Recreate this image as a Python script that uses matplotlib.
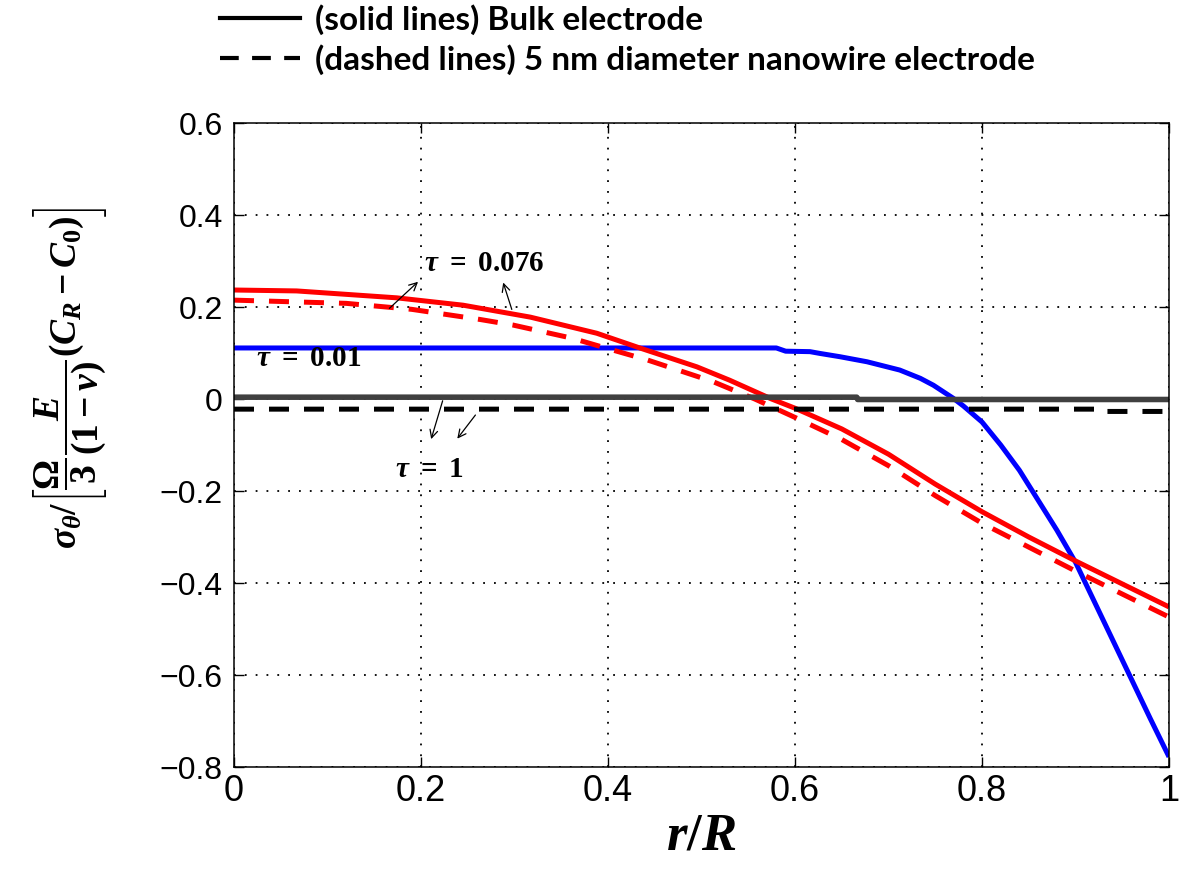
import matplotlib
matplotlib.use("Agg")
import matplotlib.pyplot as plt
from matplotlib.lines import Line2D

# values (r/R, normalised hoop stress)
r_blue = [0.0, 0.58, 0.59, 0.616, 0.627, 0.648, 0.677, 0.712, 0.734, 0.748, 0.769,
          0.78, 0.80, 0.82, 0.84, 0.86, 0.88, 0.90, 0.92, 0.94, 0.96, 0.98, 1.0]
s_blue = [0.111, 0.111, 0.104, 0.103, 0.099, 0.092, 0.081, 0.063, 0.045, 0.030, 0.002,
          -0.015, -0.05, -0.10, -0.155, -0.22, -0.285, -0.355, -0.44, -0.525, -0.61,
          -0.695, -0.778]

r_red = [0.0, 0.067, 0.174, 0.245, 0.317, 0.388, 0.434, 0.495, 0.530, 0.575,
         0.60, 0.65, 0.70, 0.75, 0.80, 0.85, 0.90, 0.95, 1.0]
s_red = [0.237, 0.235, 0.220, 0.204, 0.178, 0.143, 0.111, 0.070, 0.041, 0.0,
         -0.02, -0.065, -0.12, -0.185, -0.245, -0.30, -0.352, -0.402, -0.452]

r_red_nw = [0.0, 0.12, 0.19, 0.263, 0.298, 0.362, 0.399, 0.442, 0.512, 0.557,
            0.60, 0.65, 0.70, 0.75, 0.80, 0.85, 0.90, 0.95, 1.0]
s_red_nw = [0.215, 0.208, 0.195, 0.173, 0.161, 0.132, 0.110, 0.085, 0.038, 0.0,
            -0.04, -0.088, -0.145, -0.21, -0.27, -0.322, -0.374, -0.424, -0.474]

r_gray = [0.0, 0.666, 0.667, 1.0]
s_gray = [0.004, 0.004, -0.001, -0.001]

r_black_nw = [0.0, 0.93, 0.931, 1.0]
s_black_nw = [-0.022, -0.022, -0.027, -0.027]

xticks = [0, 0.2, 0.4, 0.6, 0.8, 1]
xticklabels = ["0", "0.2", "0.4", "0.6", "0.8", "1"]
yticks = [0.6, 0.4, 0.2, 0, -0.2, -0.4, -0.6, -0.8]
yticklabels = ["0.6", "0.4", "0.2", "0", "\u22120.2", "\u22120.4", "\u22120.6", "\u22120.8"]

plt.rcParams["mathtext.fontset"] = "custom"
plt.rcParams["mathtext.rm"] = "Liberation Serif:bold"
plt.rcParams["mathtext.it"] = "Liberation Serif:bold:italic"
plt.rcParams["mathtext.bf"] = "Liberation Serif:bold"

fig = plt.figure(figsize=(11.86, 8.72), dpi=100)
ax = fig.add_axes([0.1973, 0.1204, 0.7884, 0.7385])

lw = 3.6
ax.plot(r_blue, s_blue, color="#0000ff", lw=lw, solid_capstyle="butt")
ax.plot(r_red, s_red, color="#ff0000", lw=lw, solid_capstyle="butt")
ax.plot(r_red_nw, s_red_nw, color="#ff0000", lw=lw, dashes=(4, 3))
ax.plot(r_gray, s_gray, color="#404040", lw=4, solid_capstyle="butt")
ax.plot(r_black_nw, s_black_nw, color="black", lw=lw, dashes=(4, 3))

ax.set_xlim(0, 1)
ax.set_ylim(-0.8, 0.6)
ax.set_xticks(xticks)
ax.set_xticklabels(xticklabels, family="Liberation Sans", fontsize=26)
ax.set_yticks(yticks)
ax.set_yticklabels(yticklabels, family="Liberation Sans", fontsize=23)
ax.tick_params(direction="in", top=True, right=True, length=7, width=1)
ax.tick_params(axis="x", pad=5)
ax.tick_params(axis="y", pad=8)
ax.grid(True, color="black", lw=1.3, linestyle=(0, (1, 5)))
for sp in ax.spines.values():
    sp.set_linewidth(1.1)

ax.set_xlabel(r"$r/R$", fontsize=38, labelpad=0)
fig.text(70 / 1186, 1 - 378 / 872,
         r"$\sigma_\theta/\left[\dfrac{\Omega}{3}\dfrac{E}{(1-\nu)}(C_R-C_0)\right]$",
         rotation=90, fontsize=27, ha="center", va="center")

# curve labels
arr = dict(arrowstyle="->", color="black", lw=0.9, mutation_scale=14)
ax.text(0.268, 0.296, r"$\tau\ =\ 0.076$", fontsize=21, ha="center", va="center")
ax.annotate("", xy=(0.199, 0.259), xytext=(0.164, 0.193), arrowprops=arr)
ax.annotate("", xy=(0.287, 0.259), xytext=(0.298, 0.189), arrowprops=arr)
ax.text(0.080, 0.089, r"$\tau\ =\ 0.01$", fontsize=21, ha="center", va="center")
ax.text(0.209, -0.152, r"$\tau\ =\ 1$", fontsize=21, ha="center", va="center")
ax.annotate("", xy=(0.210, -0.093), xytext=(0.224, 0.002), arrowprops=arr)
ax.annotate("", xy=(0.237, -0.091), xytext=(0.260, -0.030), arrowprops=arr)

handles = [Line2D([], [], color="black", lw=3),
           Line2D([], [], color="black", lw=3, dashes=(4.5, 3.2))]
labels = ["(solid lines) Bulk electrode",
          "(dashed lines) 5 nm diameter nanowire electrode"]
fig.legend(handles, labels, loc="upper left", bbox_to_anchor=(220 / 1186, 1 - 4 / 872),
           frameon=False, borderpad=0, borderaxespad=0, handlelength=2.4,
           handletextpad=0.45, labelspacing=0.28,
           prop=dict(family="Lato", weight="bold", size=24))

fig.savefig("out.png", dpi=100)
